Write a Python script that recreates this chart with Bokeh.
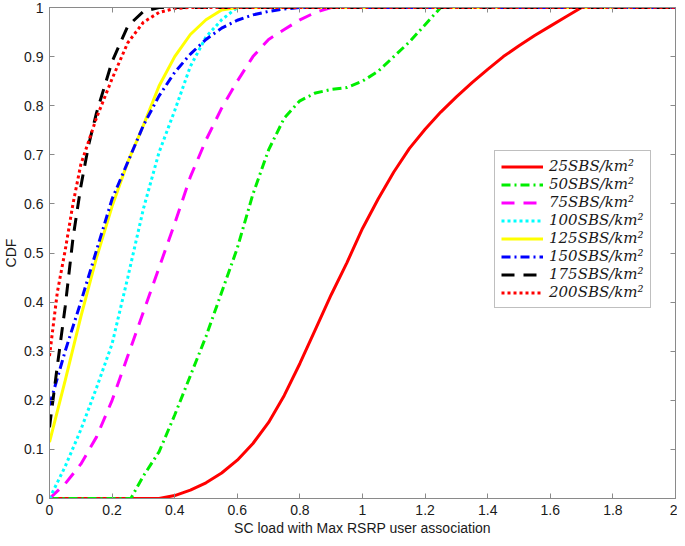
from bokeh.plotting import figure
from bokeh.models import (Legend, LegendItem, LinearAxis, FixedTicker,
                          CustomJSTickFormatter, Range1d)
from bokeh.embed import file_html
from bokeh.resources import INLINE

# ---- data ----
x25 = [0, 0.35, 0.4, 0.45, 0.5, 0.55, 0.6, 0.65, 0.7, 0.75, 0.8, 0.85, 0.9, 0.95, 1.0,
       1.05, 1.1, 1.15, 1.2, 1.25, 1.3, 1.35, 1.4, 1.45, 1.5, 1.55, 1.6, 1.65, 1.7, 2.0]
y25 = [0, 0, 0.006, 0.017, 0.032, 0.052, 0.078, 0.112, 0.155, 0.21, 0.275, 0.345, 0.415,
       0.48, 0.55, 0.61, 0.665, 0.713, 0.752, 0.787, 0.818, 0.847, 0.874, 0.9, 0.922,
       0.943, 0.962, 0.981, 1.0, 1.0]

x50 = [0, 0.26, 0.3, 0.35, 0.4, 0.45, 0.5, 0.55, 0.6, 0.65, 0.7, 0.75, 0.8, 0.85, 0.9,
       0.95, 1.0, 1.05, 1.1, 1.15, 1.2, 1.25, 2.0]
y50 = [0, 0, 0.046, 0.095, 0.17, 0.25, 0.33, 0.42, 0.51, 0.62, 0.71, 0.775, 0.81, 0.826,
       0.833, 0.837, 0.85, 0.87, 0.90, 0.93, 0.965, 1.0, 1.0]

x75 = [0, 0.05, 0.1, 0.15, 0.2, 0.25, 0.3, 0.35, 0.4, 0.45, 0.5, 0.55, 0.6, 0.65, 0.7,
       0.75, 0.8, 0.85, 0.9, 2.0]
y75 = [0, 0.03, 0.07, 0.125, 0.2, 0.29, 0.38, 0.47, 0.56, 0.655, 0.73, 0.795, 0.85, 0.9,
       0.935, 0.955, 0.975, 0.99, 1.0, 1.0]

x100 = [0, 0.05, 0.1, 0.15, 0.2, 0.25, 0.3, 0.35, 0.4, 0.45, 0.5, 0.55, 0.6, 2.0]
y100 = [0, 0.065, 0.14, 0.225, 0.315, 0.45, 0.59, 0.705, 0.79, 0.88, 0.94, 0.975, 1.0, 1.0]

x125 = [0, 0.05, 0.1, 0.15, 0.2, 0.25, 0.3, 0.35, 0.4, 0.45, 0.5, 0.55, 0.6, 2.0]
y125 = [0.115, 0.24, 0.37, 0.49, 0.595, 0.685, 0.76, 0.84, 0.9, 0.945, 0.975, 0.995, 1.0, 1.0]

x150 = [0, 0.05, 0.1, 0.15, 0.2, 0.25, 0.3, 0.35, 0.4, 0.45, 0.5, 0.55, 0.6, 0.65, 0.7,
        0.75, 0.8, 2.0]
y150 = [0.19, 0.3, 0.4, 0.505, 0.61, 0.685, 0.76, 0.82, 0.868, 0.905, 0.935, 0.958, 0.974,
        0.985, 0.992, 0.997, 1.0, 1.0]

x175 = [0, 0.025, 0.05, 0.075, 0.1, 0.125, 0.15, 0.2, 0.25, 0.3, 0.35, 2.0]
y175 = [0.145, 0.27, 0.39, 0.53, 0.635, 0.72, 0.785, 0.89, 0.962, 0.992, 1.0, 1.0]

x200 = [0, 0.025, 0.05, 0.075, 0.1, 0.15, 0.2, 0.25, 0.3, 0.35, 0.4, 0.45, 2.0]
y200 = [0.29, 0.42, 0.505, 0.6, 0.68, 0.775, 0.855, 0.928, 0.97, 0.99, 0.998, 1.0, 1.0]

labels = ["25SBS/km\u00b2", "50SBS/km\u00b2", "75SBS/km\u00b2", "100SBS/km\u00b2",
          "125SBS/km\u00b2", "150SBS/km\u00b2", "175SBS/km\u00b2", "200SBS/km\u00b2"]

x_ticks = [0, 0.2, 0.4, 0.6, 0.8, 1.0, 1.2, 1.4, 1.6, 1.8, 2.0]
y_ticks = [0, 0.1, 0.2, 0.3, 0.4, 0.5, 0.6, 0.7, 0.8, 0.9, 1.0]

x_title = "SC load with Max RSRP user association"
y_title = "CDF"

# ---- styles ----
series = [
    (x25, y25, "#ff0000", "solid"),
    (x50, y50, "#00ee00", "9 4 2 4"),
    (x75, y75, "#ff00ff", "13 9"),
    (x100, y100, "#00ffff", "3 3"),
    (x125, y125, "#ffff00", "solid"),
    (x150, y150, "#0000ff", "9 4 2 4"),
    (x175, y175, "#000000", "13 9"),
    (x200, y200, "#ff0000", "3 3"),
]

axis_col = "#8a8a8a"
text_col = "#1a1a1a"
font = "Liberation Sans"

p = figure(width=677, height=538, output_backend="svg", toolbar_location=None,
           x_range=Range1d(0, 2), y_range=Range1d(0, 1),
           x_axis_label=x_title, y_axis_label=y_title,
           min_border_left=30, min_border_right=2, min_border_top=7, min_border_bottom=30)
p.grid.visible = False
p.outline_line_color = axis_col
p.outline_line_width = 1
p.background_fill_color = "white"

fmt = CustomJSTickFormatter(code="return Number(tick.toFixed(2)).toString();")
blank = CustomJSTickFormatter(code="return '';")

p.xaxis.ticker = FixedTicker(ticks=x_ticks)
p.yaxis.ticker = FixedTicker(ticks=y_ticks)
for ax in (p.xaxis[0], p.yaxis[0]):
    ax.formatter = fmt
    ax.axis_line_color = axis_col
    ax.major_tick_line_color = axis_col
    ax.major_tick_in = 5
    ax.major_tick_out = 0
    ax.minor_tick_line_color = None
    ax.major_label_text_font = font
    ax.major_label_text_font_size = "14px"
    ax.major_label_text_color = text_col
    ax.axis_label_text_font = font
    ax.axis_label_text_font_size = "14px"
    ax.axis_label_text_font_style = "normal"
    ax.axis_label_text_color = text_col
p.xaxis.major_label_standoff = 6
p.xaxis.axis_label_standoff = 2
p.yaxis.major_label_standoff = 6
p.yaxis.axis_label_standoff = 2

for loc, ticks in (("above", x_ticks), ("right", y_ticks)):
    extra = LinearAxis(ticker=FixedTicker(ticks=ticks), formatter=blank,
                       major_label_standoff=0, major_tick_in=5, major_tick_out=0,
                       minor_tick_line_color=None, axis_line_color=axis_col,
                       major_tick_line_color=axis_col)
    p.add_layout(extra, loc)

items = []
for (xs, ys, col, dash), lab in zip(series, labels):
    r = p.line(xs, ys, line_color=col, line_width=3, line_dash=dash)
    items.append(LegendItem(label=lab, renderers=[r]))

legend = Legend(items=items, location=(445, 190),
                border_line_color="#808080", border_line_width=1,
                background_fill_color="white", background_fill_alpha=1,
                label_text_font="DejaVu Serif", label_text_font_style="italic",
                label_text_font_size="15px", label_text_color=text_col,
                glyph_width=42, glyph_height=17, label_height=17,
                spacing=0, padding=6, margin=0, label_standoff=6)
p.add_layout(legend, "center")

open("out.html", "w").write(file_html(p, INLINE))
